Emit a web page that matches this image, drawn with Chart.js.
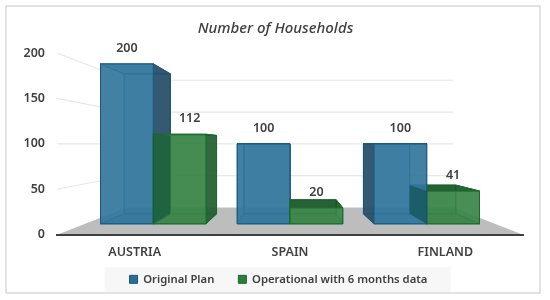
<!DOCTYPE html>
<html>
<head>
<meta charset="utf-8">
<style>
  html, body { margin: 0; padding: 0; background: #fff; }
  canvas { display: block; }
</style>
<script src="https://cdn.jsdelivr.net/npm/chart.js@4/dist/chart.umd.js"></script>
</head>
<body>
<canvas id="chart" width="550" height="300"></canvas>
<script>
const countries = ["AUSTRIA", "SPAIN", "FINLAND"];
const originalPlan = [200, 100, 100];
const operational = [112, 20, 41];
const yTicks = [0, 50, 100, 150, 200];

const FONT = '"Noto Sans", sans-serif';
const TEXT = "#404040";

// perspective: 1 is the front edge of the floor, smaller is further back
const HORIZON_VALUE = 100;
const WALL_DEPTH = 0.70;
const BAR_FRONT = 0.88;
const BAR_BACK = 0.77;

// title and legend are not centred on the plot in the reference
const TITLE_SHIFT = 14;
const LEGEND_SHIFT = 17;
const LEGEND_PADDING = 24;
const LEGEND_TOP = 249.7;

const skins = [
  { front: "rgba(50,118,156,0.92)", back: "rgba(38,108,148,0.25)", side: "rgba(40,78,105,0.92)", top: "rgba(30,85,120,0.3)", line: "#1c5878" },
  { front: "rgba(56,132,70,0.92)", back: "rgba(40,115,55,0.25)", side: "rgba(35,95,50,0.92)", top: "rgba(25,85,40,0.92)", line: "#1a6a2c" },
];
const JOINT_SHADE = "rgba(5,70,60,0.5)";

function quad(ctx, pts, fill, line) {
  ctx.beginPath();
  pts.forEach((p, i) => (i ? ctx.lineTo(p[0], p[1]) : ctx.moveTo(p[0], p[1])));
  ctx.closePath();
  if (fill) {
    ctx.fillStyle = fill;
    ctx.fill();
  }
  if (line) {
    ctx.strokeStyle = line;
    ctx.lineWidth = 1;
    ctx.stroke();
  }
}

const scene3d = {
  id: "scene3d",
  afterLayout(chart) {
    chart.titleBlock.left += TITLE_SHIFT;
    chart.titleBlock.right += TITLE_SHIFT;
    chart.legend.left += LEGEND_SHIFT;
    chart.legend.right += LEGEND_SHIFT;
    chart.legend.top = LEGEND_TOP;
    chart.scales.x.bottom += 15; // tick labels get clipped to the axis box otherwise
  },
  beforeDraw(chart) {
    const { ctx, width, height } = chart;
    ctx.save();
    ctx.fillStyle = "#fff";
    ctx.fillRect(0, 0, width, height);
    ctx.strokeStyle = "#d9d9d9";
    ctx.lineWidth = 1.5;
    ctx.strokeRect(6, 6, 534, 287);
    // grey strip behind the legend
    const boxes = chart.legend.legendHitBoxes;
    const first = boxes[0];
    const last = boxes[boxes.length - 1];
    ctx.fillStyle = "#f7f7f7";
    ctx.fillRect(first.left - 25, LEGEND_TOP + LEGEND_PADDING + 6.8 - 13.5, last.left + last.width - first.left + 48, 25);
    ctx.restore();
  },
  beforeDatasetsDraw(chart) {
    const { ctx, scales } = chart;
    const sx = scales.x;
    const sy = scales.y;
    const vx = (sx.left + sx.right) / 2;
    const vy = sy.getPixelForValue(HORIZON_VALUE);
    const project = (px, value, depth) => [
      vx + (px - vx) * depth,
      vy + (sy.getPixelForValue(value) - vy) * depth,
    ];

    ctx.save();
    // floor
    quad(ctx, [
      project(sx.left, 0, 1),
      project(sx.right, 0, 1),
      project(sx.right, 0, WALL_DEPTH),
      project(sx.left, 0, WALL_DEPTH),
    ], "#bdbdbd");

    // gridlines run from the axis to the back wall, then across it
    ctx.strokeStyle = "#e7e7e7";
    ctx.lineWidth = 1.2;
    yTicks.filter((v) => v > 0).forEach((v) => {
      const a = project(sx.left, v, 1);
      const b = project(sx.left, v, WALL_DEPTH);
      const c = project(sx.right, v, WALL_DEPTH);
      ctx.beginPath();
      ctx.moveTo(a[0], a[1]);
      ctx.lineTo(b[0], b[1]);
      ctx.lineTo(c[0], c[1]);
      ctx.stroke();
    });

    // collect the bars, furthest from the centre gets painted first
    const bars = [];
    chart.data.datasets.forEach((ds, i) => {
      chart.getDatasetMeta(i).data.forEach((el, j) => {
        bars.push({ left: el.x - el.width / 2, right: el.x + el.width / 2, x: el.x, value: ds.data[j], series: i, skin: skins[i] });
      });
    });
    bars.sort((p, q) => Math.abs(q.x - vx) - Math.abs(p.x - vx));

    const f = (px, v) => project(px, v, BAR_FRONT);
    const k = (px, v) => project(px, v, BAR_BACK);

    bars.forEach((b) => {
      const s = b.skin;
      const l = b.left, r = b.right, v = b.value;
      quad(ctx, [k(l, 0), k(r, 0), k(r, v), k(l, v)], s.back, s.line);
      quad(ctx, [f(l, 0), f(r, 0), k(r, 0), k(l, 0)], s.back, s.line);
      const leftFace = [f(l, 0), k(l, 0), k(l, v), f(l, v)];
      const rightFace = [f(r, 0), k(r, 0), k(r, v), f(r, v)];
      const showRight = b.x < vx;
      quad(ctx, showRight ? leftFace : rightFace, null, s.line);
      quad(ctx, [f(l, v), f(r, v), k(r, v), k(l, v)], s.top, s.line);
      quad(ctx, showRight ? rightFace : leftFace, s.side, s.line);
      quad(ctx, [f(l, 0), f(r, 0), f(r, v), f(l, v)], s.front, s.line);
    });

    // the wall shared by the two bars of a country shows through darker
    bars.filter((b) => b.series === 1).forEach((b) => {
      quad(ctx, [f(b.left, 0), k(b.left, 0), k(b.left, b.value), f(b.left, b.value)], JOINT_SHADE);
    });

    // value labels sit on the front top edge of each bar
    ctx.fillStyle = TEXT;
    ctx.font = "600 12.5px " + FONT;
    ctx.textAlign = "center";
    ctx.textBaseline = "middle";
    chart.data.datasets.forEach((ds, i) => {
      chart.getDatasetMeta(i).data.forEach((el, j) => {
        const p = project(el.x, ds.data[j], BAR_FRONT);
        const nudge = ds.data[j] === 112 ? 10 : 0; // the 112 label was dragged clear of the blue bar
        ctx.fillText(String(ds.data[j]), p[0] + nudge, p[1] - 15.5);
      });
    });
    ctx.restore();
  },
  beforeDatasetDraw() {
    return false; // the bars are painted in 3D above
  },
};

new Chart(document.getElementById("chart"), {
  type: "bar",
  data: {
    labels: countries,
    datasets: [
      { label: "Original Plan", data: originalPlan, backgroundColor: "#2a6f97", borderColor: "#1c5878", borderWidth: 1 },
      { label: "Operational with 6 months data", data: operational, backgroundColor: "#2e7d3c", borderColor: "#1a6a2c", borderWidth: 1 },
    ],
  },
  plugins: [scene3d],
  options: {
    responsive: false,
    animation: false,
    layout: { padding: { right: 27 } },
    datasets: { bar: { categoryPercentage: 0.772, barPercentage: 1 } },
    scales: {
      x: {
        grid: { display: false },
        border: { display: true, color: "#404040", width: 2, z: 1 },
        ticks: { color: TEXT, padding: 2, font: { family: FONT, size: 12.5, weight: "600" }, maxRotation: 0 },
        afterFit: (axis) => { axis.height = 20; },
      },
      y: {
        min: 0,
        max: 200,
        afterBuildTicks: (axis) => { axis.ticks = yTicks.map((value) => ({ value })); },
        grid: { display: false },
        border: { display: false },
        ticks: { color: TEXT, padding: 4, font: { family: FONT, size: 12.5, weight: "600" } },
        afterFit: (axis) => { axis.width = 57; },
      },
    },
    plugins: {
      tooltip: { enabled: false },
      title: {
        display: true,
        text: "Number of Households",
        color: TEXT,
        font: { family: FONT, size: 15, style: "italic", weight: "500" },
        padding: { top: 20, bottom: 15 },
      },
      legend: {
        position: "bottom",
        labels: {
          color: TEXT,
          boxWidth: 8,
          boxHeight: 8,
          padding: LEGEND_PADDING,
          font: { family: FONT, size: 11.3, weight: "600" },
        },
      },
    },
  },
});
</script>
</body>
</html>
